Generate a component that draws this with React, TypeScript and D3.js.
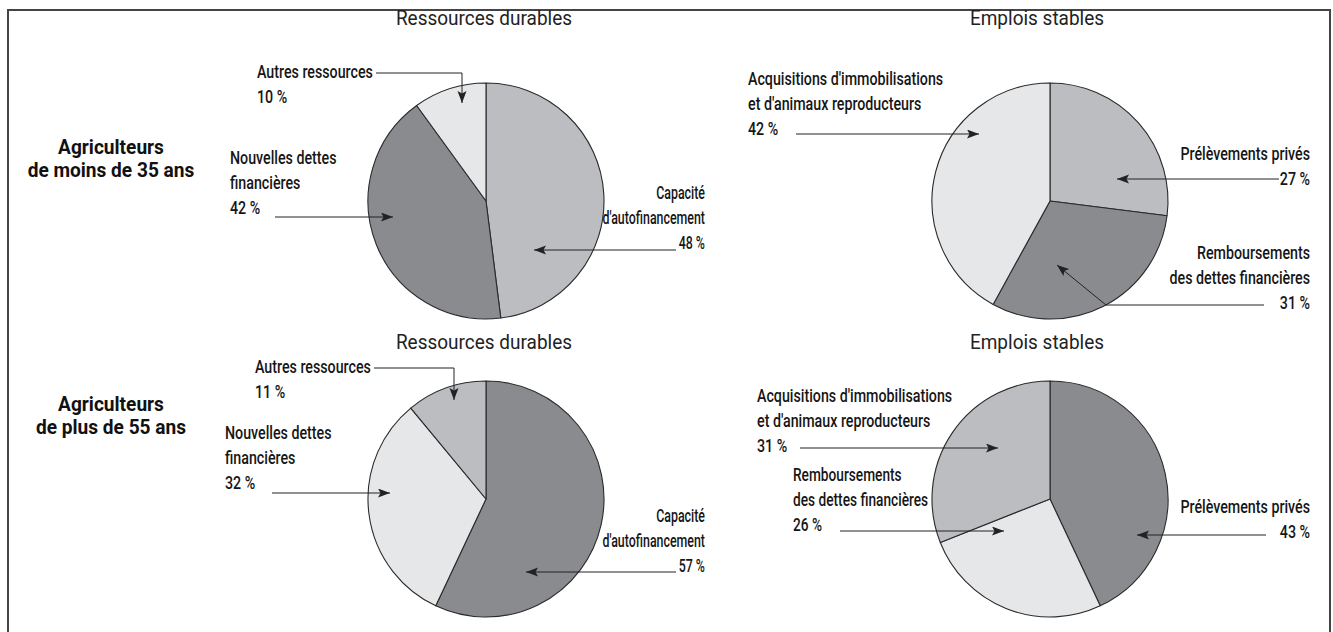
import React, { useEffect, useRef } from 'react';
import * as d3 from 'd3';

// Données (en %)
const groupLabels = [
    ['Agriculteurs', 'de moins de 35 ans'],
    ['Agriculteurs', 'de plus de 55 ans'],
];
const pieTitles = ['Ressources durables', 'Emplois stables'];

const ressourcesCategories = ["Capacité d'autofinancement", 'Nouvelles dettes financières', 'Autres ressources'];
const ressourcesMoins35 = [48, 42, 10];
const ressourcesPlus55 = [57, 32, 11];

const emploisCategories = ['Prélèvements privés', 'Remboursements des dettes financières', "Acquisitions d'immobilisations et d'animaux reproducteurs"];
const emploisMoins35 = [27, 31, 42];
const emploisPlus55 = [43, 26, 31];

const LIGHT = '#e6e7e9';
const MID = '#bcbdc0';
const DARK = '#8a8b8f';

const W = 1333;
const H = 632;
const R = 118;
const colX = [486, 1050];
const rowY = [201, 499];
const titleX = [484, 1037];
const titleY = [25, 349];

interface Note {
    lines: string[];
    anchor: 'start' | 'end';
    x: number;
    y: number;      // première ligne de base
    tail: [number, number][]; // points du trait (absolus)
    tip: [number, number];    // pointe relative au centre du camembert
    sx?: number;
}

interface PieSpec {
    row: number;
    col: number;
    values: number[];
    categories: string[];
    shades: string[];
    notes: Note[];
}

const LH = 25;

const pies: PieSpec[] = [
    {
        row: 0, col: 0, values: ressourcesMoins35, categories: ressourcesCategories,
        shades: [MID, DARK, LIGHT],
        notes: [
            { lines: ['Capacité', "d'autofinancement", '48 %'], anchor: 'end', x: 705, y: 199, tail: [[676, 250]], tip: [48, 49], sx: 0.67 },
            { lines: ['Nouvelles dettes', 'financières', '42 %'], anchor: 'start', x: 230, y: 164, tail: [[275, 217]], tip: [-93, 16] },
            { lines: ['Autres ressources', '10 %'], anchor: 'start', x: 257, y: 78, tail: [[376, 73], [462, 73]], tip: [-24, -98] },
        ],
    },
    {
        row: 0, col: 1, values: emploisMoins35, categories: emploisCategories,
        shades: [MID, DARK, LIGHT],
        notes: [
            { lines: ['Prélèvements privés', '27 %'], anchor: 'end', x: 1310, y: 160, tail: [[1279, 179]], tip: [67, -22] },
            { lines: ['Remboursements', 'des dettes financières', '31 %'], anchor: 'end', x: 1310, y: 259, tail: [[1264, 305], [1106, 305]], tip: [7, 64] },
            { lines: ["Acquisitions d'immobilisations", "et d'animaux reproducteurs", '42 %'], anchor: 'start', x: 748, y: 85, tail: [[796, 134]], tip: [-71, -67] },
        ],
    },
    {
        row: 1, col: 0, values: ressourcesPlus55, categories: ressourcesCategories,
        shades: [DARK, LIGHT, MID],
        notes: [
            { lines: ['Capacité', "d'autofinancement", '57 %'], anchor: 'end', x: 705, y: 522, tail: [[676, 572]], tip: [40, 73], sx: 0.67 },
            { lines: ['Nouvelles dettes', 'financières', '32 %'], anchor: 'start', x: 225, y: 439, tail: [[272, 493]], tip: [-96, -6] },
            { lines: ['Autres ressources', '11 %'], anchor: 'start', x: 255, y: 373, tail: [[374, 368], [454, 368]], tip: [-32, -99] },
        ],
    },
    {
        row: 1, col: 1, values: emploisPlus55, categories: emploisCategories,
        shades: [DARK, LIGHT, MID],
        notes: [
            { lines: ['Prélèvements privés', '43 %'], anchor: 'end', x: 1310, y: 513, tail: [[1266, 535]], tip: [87, 36] },
            { lines: ['Remboursements', 'des dettes financières', '26 %'], anchor: 'start', x: 793, y: 481, tail: [[840, 531]], tip: [-46, 32], sx: 0.74 },
            { lines: ["Acquisitions d'immobilisations", "et d'animaux reproducteurs", '31 %'], anchor: 'start', x: 757, y: 402, tail: [[800, 448]], tip: [-52, -51] },
        ],
    },
];

const font = 'Roboto, "Noto Sans", sans-serif';

type Sel = d3.Selection<SVGSVGElement, unknown, null, undefined>;

// texte multi-lignes, compressé horizontalement (police étroite)
function drawText(svg: Sel, x: number, y: number, lines: string[], anchor: string,
    size: number, sx: number, weight: string | number, lh: number, fill = '#161616') {
    const t = svg.append('text')
        .attr('transform', `translate(${x},${y}) scale(${sx},1)`)
        .attr('text-anchor', anchor)
        .style('font-family', font)
        .style('font-size', `${size}px`)
        .style('font-weight', weight)
        .attr('fill', fill);
    lines.forEach((l, j) => t.append('tspan').attr('x', 0).attr('y', j * lh).text(l));
}

const App: React.FC = () => {
    const svgRef = useRef<SVGSVGElement>(null);

    useEffect(() => {
        if (!svgRef.current) return;
        const svg = d3.select(svgRef.current);
        svg.selectAll('*').remove();

        svg.append('defs').append('marker')
            .attr('id', 'head')
            .attr('markerUnits', 'userSpaceOnUse')
            .attr('markerWidth', 13)
            .attr('markerHeight', 10)
            .attr('refX', 12)
            .attr('refY', 4.5)
            .attr('orient', 'auto')
            .append('path')
            .attr('d', 'M0,0 L12,4.5 L0,9 L2.5,4.5 Z')
            .attr('fill', '#222');

        // cadre
        svg.append('path')
            .attr('d', `M8,${H} L8,10 L${W - 3},10 L${W - 3},${H}`)
            .attr('fill', 'none')
            .attr('stroke', '#444')
            .attr('stroke-width', 2);

        // titres des colonnes
        titleY.forEach(ty => {
            pieTitles.forEach((t, i) => {
                drawText(svg, titleX[i], ty, [t], 'middle', 20, 0.95, 400, 0, '#222');
            });
        });

        // libellés des lignes
        const rowTextY = [154, 411];
        groupLabels.forEach((lines, i) => {
            drawText(svg, 111, rowTextY[i], lines, 'middle', 19.5, 0.98, 700, 23, '#111');
        });

        const pie = d3.pie<number>().sort(null).value(d => d);
        const arc = d3.arc<d3.PieArcDatum<number>>().innerRadius(0).outerRadius(R);

        pies.forEach(p => {
            const cx = colX[p.col];
            const cy = rowY[p.row];
            const g = svg.append('g').attr('transform', `translate(${cx},${cy})`);
            g.selectAll('path')
                .data(pie(p.values))
                .join('path')
                .attr('d', arc)
                .attr('fill', (_, i) => p.shades[i])
                .attr('stroke', '#2a2a2a')
                .attr('stroke-width', 1.1)
                .attr('stroke-linejoin', 'round');

            p.notes.forEach(n => {
                drawText(svg, n.x, n.y, n.lines, n.anchor, 18.5, n.sx ?? 0.77, 500, LH);

                const pts: [number, number][] = [...n.tail, [cx + n.tip[0], cy + n.tip[1]]];
                svg.append('path')
                    .attr('d', d3.line()(pts))
                    .attr('fill', 'none')
                    .attr('stroke', '#222')
                    .attr('stroke-width', 1)
                    .attr('marker-end', 'url(#head)');
            });
        });
    }, []);

    return (
        <svg ref={svgRef} width={W} height={H} viewBox={`0 0 ${W} ${H}`}
            style={{ position: 'absolute', left: 0, top: 0, background: '#fff' }} />
    );
};

export default App;
